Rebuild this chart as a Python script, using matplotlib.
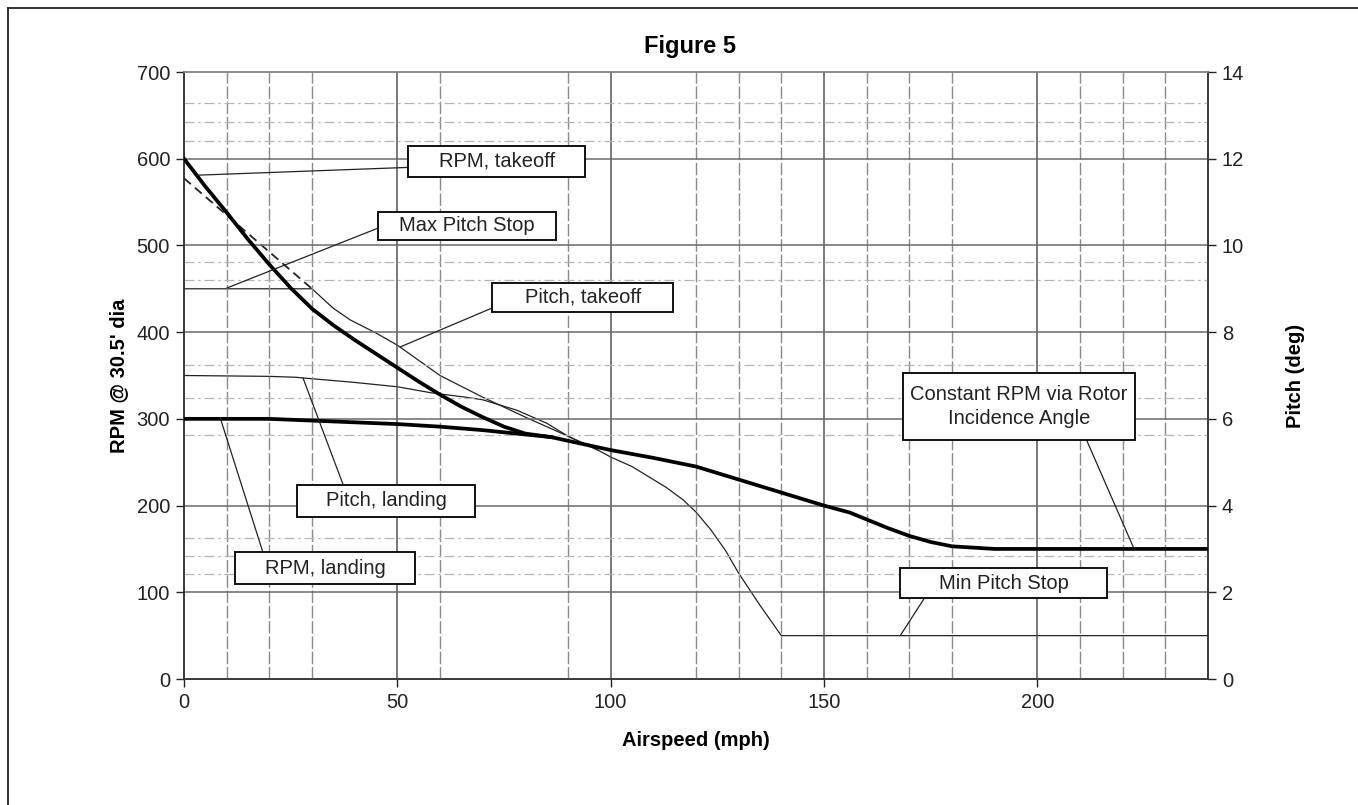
import numpy as np
import matplotlib.pyplot as plt
from matplotlib.lines import Line2D
from matplotlib.patches import Rectangle

plt.rcParams['font.family'] = ['Liberation Sans', 'DejaVu Sans']

# RPM (left axis)
speed_rpm_takeoff = [0, 5, 10, 15, 20, 25, 30, 35, 40, 45, 50, 55, 60, 65, 70, 75, 80, 86]
rpm_takeoff = [600, 568, 538, 507, 478, 451, 427, 408, 391, 375, 359, 343, 328, 314, 302, 291, 283, 279]
speed_rpm_landing = [0, 10, 20, 30, 40, 50, 60, 70, 80, 86, 100, 110, 120, 130, 140, 150, 156, 160,
                     165, 170, 175, 180, 190, 200, 240]
rpm_landing = [300, 300, 300, 298, 296, 294, 291, 287, 282, 279, 264, 255, 245, 230, 215, 200, 192, 184,
               174, 165, 158, 153, 150, 150, 150]

# pitch (right axis, deg)
speed_pitch_takeoff = [0, 30, 35, 39, 45, 50, 60, 70, 80, 90, 97, 100, 105, 109, 113, 117, 120, 123.5,
                       127, 130, 135, 140, 240]
pitch_takeoff = [9.0, 9.0, 8.55, 8.28, 7.98, 7.7, 7.0, 6.5, 6.04, 5.6, 5.28, 5.12, 4.9, 4.66, 4.42, 4.13,
                 3.85, 3.44, 2.95, 2.44, 1.7, 1.0, 1.0]
speed_pitch_landing = [0, 20, 26, 40, 50, 58, 66, 70, 78, 85, 90, 97]
pitch_landing = [7.0, 6.98, 6.96, 6.84, 6.74, 6.6, 6.5, 6.44, 6.2, 5.9, 5.6, 5.28]
speed_pitch_free = [0, 30]
pitch_free = [11.55, 9.0]

x_ticks = [0, 50, 100, 150, 200]
rpm_ticks = [0, 100, 200, 300, 400, 500, 600, 700]
pitch_ticks = [0, 2, 4, 6, 8, 10, 12, 14]

fig = plt.figure(figsize=(13.58, 8.05), dpi=100)
ax = fig.add_axes([184 / 1358, 1 - 679 / 805, (1208 - 184) / 1358, (679 - 72) / 805])
ax2 = ax.twinx()

# grid, as in the scanned original
minor_v = [10, 20, 30, 60, 90, 120, 130, 140, 160, 170, 180, 210, 220, 230]
for v in minor_v:
    ax.axvline(v, color='#8a8a8a', lw=1.0, ls=(0, (9, 2)), zorder=0)
for v in [50, 100, 150, 200]:
    ax.axvline(v, color='#555555', lw=1.1, zorder=0)
for h in [100, 200, 300, 400, 500, 600]:
    ax.axhline(h, color='#6a6a6a', lw=1.1, zorder=0)
for h in [664, 642, 621, 481, 460, 362, 324, 281, 163, 142, 121]:
    ax.axhline(h, color='#b5b5b5', lw=0.9, ls=(0, (8, 3, 2, 3)), zorder=0)

ax.plot(speed_rpm_landing, rpm_landing, color='black', lw=2.7, zorder=3, solid_joinstyle='round')
ax.plot(speed_rpm_takeoff, rpm_takeoff, color='black', lw=2.7, zorder=3, solid_joinstyle='round')
ax2.plot(speed_pitch_takeoff, pitch_takeoff, color='#222222', lw=0.9, zorder=3)
ax2.plot(speed_pitch_landing, pitch_landing, color='#222222', lw=0.9, zorder=3)
ax2.plot(speed_pitch_free, pitch_free, color='#222222', lw=1.3, ls=(0, (5, 3)), zorder=3)

ax.set_xlim(0, 240)
ax.set_ylim(0, 700)
ax2.set_ylim(0, 14)
ax.set_xticks(x_ticks)
ax.set_yticks(rpm_ticks)
ax2.set_yticks(pitch_ticks)
for a in (ax, ax2):
    a.tick_params(labelsize=14.5, length=6, width=1, direction='out', colors='#222222', pad=4)
    for s in a.spines.values():
        s.set_color('#333333')
        s.set_linewidth(1.1)
ax.spines['top'].set_color('#888888')
ax2.spines['top'].set_color('#888888')
ax.set_zorder(ax2.get_zorder() + 1)
ax.patch.set_visible(False)

ax.set_xlabel('Airspeed (mph)', fontsize=14.5, fontweight='bold', labelpad=14)
ax.set_ylabel("RPM @ 30.5' dia", fontsize=14.5, fontweight='bold', labelpad=6)
ax2.set_ylabel('Pitch (deg)', fontsize=14.5, fontweight='bold', labelpad=30)
fig.text(690 / 1358, 1 - 47 / 805, 'Figure 5', ha='center', va='center', fontsize=17, fontweight='bold')

# labelled boxes: text, box (x0, x1, y0, y1), leader start, leader end (left axis units)
boxes = [
    ('RPM, takeoff', (52.6, 94.1, 579, 615), (3.1, 581), (52.6, 590)),
    ('Max Pitch Stop', (45.5, 87.3, 506, 539), (10.1, 451), (45.5, 520)),
    ('Pitch, takeoff', (72.3, 114.6, 423, 457), (50.7, 383), (72.3, 428)),
    ('Pitch, landing', (26.5, 68.3, 187, 224), (27.9, 347), (37.3, 224)),
    ('RPM, landing', (12.0, 54.2, 110, 146), (8.5, 301), (18.5, 146)),
    ('Constant RPM via Rotor\nIncidence Angle', (168.5, 222.8, 276, 353), (222.5, 152), (211.5, 276)),
    ('Min Pitch Stop', (167.8, 216.4, 93, 128), (168, 51), (173.5, 93)),
]
for txt, (x0, x1, y0, y1), p0, p1 in boxes:
    ax.plot([p0[0], p1[0]], [p0[1], p1[1]], color='#222222', lw=0.9, zorder=4)
    ax.add_patch(Rectangle((x0, y0), x1 - x0, y1 - y0, facecolor='white',
                           edgecolor='#111111', lw=1.4, zorder=5))
    ax.text((x0 + x1) / 2, (y0 + y1) / 2, txt, ha='center', va='center',
            fontsize=14.5, color='#222222', zorder=6, linespacing=1.3)

# page frame (top and left only, rest is cropped)
fig.add_artist(Line2D([8 / 1358, 8 / 1358], [0, 1 - 8 / 805], color='#222222', lw=1.3))
fig.add_artist(Line2D([8 / 1358, 1], [1 - 8 / 805, 1 - 8 / 805], color='#222222', lw=1.3))

plt.savefig('out.png', dpi=100)
